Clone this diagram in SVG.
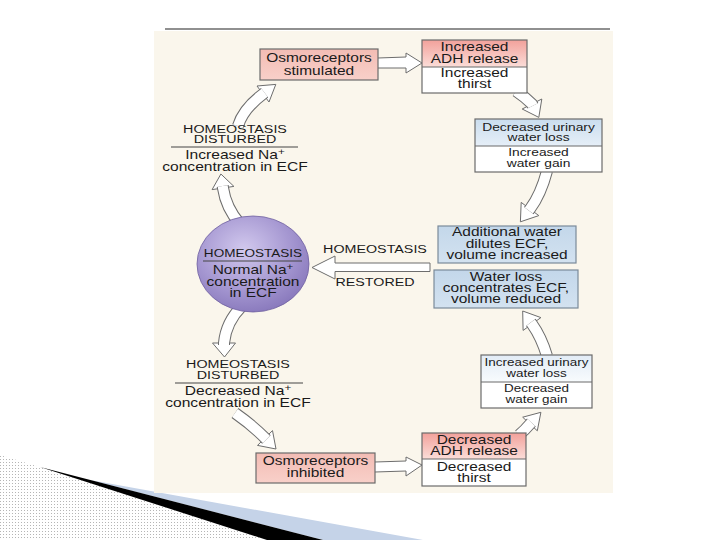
<svg xmlns="http://www.w3.org/2000/svg" width="720" height="540" viewBox="0 0 720 540">
<style>
.t{font-family:"Liberation Sans",Arial,Helvetica,sans-serif;font-size:12px;fill:#1a1a1a;text-anchor:middle}
.h{font-size:11px}
.s{font-size:11.5px}
.sup{font-size:9px}
.bx{stroke:#6b6b6b;stroke-width:1.2}
.bb{stroke:#7b8a99;stroke-width:1.2}
.sep{stroke:#444;stroke-width:1}
.so{fill:none;stroke:#6d6d6d;stroke-width:12}
.si{fill:none;stroke:#fff;stroke-width:10}
.hd{fill:#fff;stroke:#6d6d6d;stroke-width:1;stroke-linejoin:miter}
</style>
<defs>
<pattern id="dots" width="3" height="3" patternUnits="userSpaceOnUse"><rect width="3" height="3" fill="#fff"/><rect width="1" height="1" fill="#b5b5b5"/></pattern>
<linearGradient id="pk" x1="0" y1="0" x2="0" y2="1"><stop offset="0" stop-color="#F2A19B"/><stop offset="1" stop-color="#FBDDD8"/></linearGradient>
<linearGradient id="pk2" x1="0" y1="0" x2="0" y2="1"><stop offset="0" stop-color="#F3BCB4"/><stop offset="1" stop-color="#F8D0C9"/></linearGradient>
<linearGradient id="bl" x1="0" y1="0" x2="0" y2="1"><stop offset="0" stop-color="#CADDEE"/><stop offset="1" stop-color="#E6EFF8"/></linearGradient>
<linearGradient id="bl2" x1="0" y1="0" x2="0" y2="1"><stop offset="0" stop-color="#E2ECF6"/><stop offset="1" stop-color="#F8FBFD"/></linearGradient>
<linearGradient id="bl3" x1="0" y1="0" x2="0" y2="1"><stop offset="0" stop-color="#C3D7EA"/><stop offset="1" stop-color="#D3E2F0"/></linearGradient>
<radialGradient id="pu" cx="0.42" cy="0.35" r="0.7"><stop offset="0" stop-color="#D2C9EE"/><stop offset="0.6" stop-color="#A597D1"/><stop offset="1" stop-color="#8676BA"/></radialGradient>
<path id="c1" d="M238,126 Q243,109 263,94 l1.6,-1.2"/>
<path id="c2" d="M240,224 Q226,208 223,188 l-0.3,-2"/>
<path id="c3" d="M242,306 Q226,322 224,343 l0,2"/>
<path id="c4" d="M235,413 Q252.4,425.2 265,438 l1.4,1.4"/>
<path id="c5" d="M516,91 Q525,97 532,104 l0.9,1.8"/>
<path id="c6" d="M547,171 Q540.8,194.6 530,209 l-1.2,1.6"/>
<path id="c7" d="M547,356 Q541.3,337 532,324 l-1.2,-1.6"/>
<path id="c8" d="M519,435 Q525,430 530,424 l1.4,-1.5"/>
</defs>
<rect width="720" height="540" fill="#fff"/>
<g id="decoration">
<polygon points="0,455 40,467 267,540 0,540" fill="url(#dots)"/>
<polygon points="90,480 423,540 323,540" fill="#C5D3E8"/>
<polygon points="40,467 323,540 267,540" fill="#000"/>
</g>
<rect id="panel" x="154" y="31" width="459" height="462" fill="#FAF6EC"/>
<line x1="165" y1="29" x2="610" y2="29" stroke="#222" stroke-width="1.2"/>
<g id="connectors">
<path class="hd" d="M378,58 L406,57 L406,53 L422,63 L406,73 L406,68 L378,68"/>
<path class="hd" d="M375,462 L406,461 L406,457 L422,465 L406,476 L406,471 L375,472"/>
<path class="hd" d="M430,263 L335,263 L335,256 L312,267.5 L335,279 L335,271.5 L430,271.5 Z"/>
<polygon class="hd" points="269,102 257,86 275.8,84.4"/>
<polygon class="hd" points="233.9,186.4 212.1,189.6 220.9,174"/>
<polygon class="hd" points="212.5,343 235.5,343 224.5,357"/>
<polygon class="hd" points="272.5,430.6 257.5,445.4 276,449"/>
<polygon class="hd" points="541.8,99 522.2,109 538.8,117.4"/>
<polygon class="hd" points="538.8,215.6 521.2,202.4 520.4,221.8"/>
<polygon class="hd" points="540.9,317.6 523.1,330.4 522.7,311"/>
<polygon class="hd" points="537.3,430.8 522.7,417.2 540.9,412.3"/>
<use href="#c1" class="so"/><use href="#c1" class="si"/>
<use href="#c2" class="so"/><use href="#c2" class="si"/>
<use href="#c3" class="so"/><use href="#c3" class="si"/>
<use href="#c4" class="so"/><use href="#c4" class="si"/>
<use href="#c5" class="so"/><use href="#c5" class="si"/>
<use href="#c6" class="so"/><use href="#c6" class="si"/>
<use href="#c7" class="so"/><use href="#c7" class="si"/>
<use href="#c8" class="so"/><use href="#c8" class="si"/>
<g transform="translate(375 0) scale(1.3 1)">
<text class="t h" y="253">HOMEOSTASIS</text>
<text class="t h" y="286">RESTORED</text>
</g>
</g>
<g id="osmo-stimulated">
<rect class="bx" x="260" y="49" width="118" height="31" fill="url(#pk2)"/>
<g transform="translate(319 0) scale(1.29 1)">
<text class="t" y="62">Osmoreceptors</text>
<text class="t" y="75">stimulated</text>
</g>
</g>
<g id="adh-increased">
<rect x="422" y="40" width="105" height="27" fill="url(#pk)"/>
<rect x="422" y="67" width="105" height="26" fill="#fff"/>
<rect class="bx" x="422" y="40" width="105" height="53" fill="none"/>
<line class="bx" x1="422" y1="67" x2="527" y2="67"/>
<g transform="translate(474.5 0) scale(1.29 1)">
<text class="t" y="51">Increased</text>
<text class="t" y="63">ADH release</text>
<text class="t" y="77">Increased</text>
<text class="t" y="88">thirst</text>
</g>
</g>
<g id="urinary-decreased">
<rect x="475" y="119" width="127" height="27" fill="url(#bl)"/>
<rect x="475" y="146" width="127" height="26" fill="#fff"/>
<rect class="bx" x="475" y="119" width="127" height="53" fill="none"/>
<line class="bx" x1="475" y1="146" x2="602" y2="146"/>
<g transform="translate(538.5 0) scale(1.2 1)">
<text class="t s" y="131">Decreased urinary</text>
<text class="t s" y="141">water loss</text>
<text class="t s" y="156">Increased</text>
<text class="t s" y="167">water gain</text>
</g>
</g>
<g id="additional-water">
<rect class="bb" x="438" y="226" width="138" height="37" fill="url(#bl3)"/>
<g transform="translate(507 0) scale(1.29 1)">
<text class="t" y="236">Additional water</text>
<text class="t" y="248">dilutes ECF,</text>
<text class="t" y="259">volume increased</text>
</g>
</g>
<g id="water-loss">
<rect class="bb" x="434" y="270" width="144" height="38" fill="url(#bl3)"/>
<g transform="translate(506 0) scale(1.29 1)">
<text class="t" y="281">Water loss</text>
<text class="t" y="292">concentrates ECF,</text>
<text class="t" y="303">volume reduced</text>
</g>
</g>
<g id="urinary-increased">
<rect x="481" y="355" width="111" height="27" fill="url(#bl2)"/>
<rect x="481" y="382" width="111" height="26" fill="#fff"/>
<rect class="bx" x="481" y="355" width="111" height="53" fill="none"/>
<line class="bx" x1="481" y1="382" x2="592" y2="382"/>
<g transform="translate(536.5 0) scale(1.17 1)">
<text class="t s" y="366">Increased urinary</text>
<text class="t s" y="377">water loss</text>
<text class="t s" y="392">Decreased</text>
<text class="t s" y="403">water gain</text>
</g>
</g>
<g id="adh-decreased">
<rect x="422" y="433" width="104" height="26" fill="url(#pk)"/>
<rect x="422" y="459" width="104" height="27" fill="#fff"/>
<rect class="bx" x="422" y="433" width="104" height="53" fill="none"/>
<line class="bx" x1="422" y1="459" x2="526" y2="459"/>
<g transform="translate(474 0) scale(1.29 1)">
<text class="t" y="444">Decreased</text>
<text class="t" y="455">ADH release</text>
<text class="t" y="471">Decreased</text>
<text class="t" y="482">thirst</text>
</g>
</g>
<g id="osmo-inhibited">
<rect class="bx" x="256" y="453" width="119" height="30" fill="url(#pk2)"/>
<g transform="translate(315.5 0) scale(1.29 1)">
<text class="t" y="465">Osmoreceptors</text>
<text class="t" y="477">inhibited</text>
</g>
</g>
<g id="homeostasis">
<ellipse cx="253" cy="264" rx="56" ry="48" fill="url(#pu)" stroke="#6f5fa0" stroke-width="0.8"/>
<line class="sep" x1="203" y1="261" x2="302" y2="261"/>
<g transform="translate(253 0) scale(1.29 1)">
<text class="t" style="font-size:10.5px" y="257">HOMEOSTASIS</text>
<text class="t" y="274">Normal Na<tspan class="sup" dy="-4">+</tspan></text>
<text class="t" y="286">concentration</text>
<text class="t" y="297">in ECF</text>
</g>
</g>
<g id="disturbed-increased">
<line class="sep" x1="171" y1="147" x2="298" y2="147"/>
<g transform="translate(235 0) scale(1.3 1)">
<text class="t h" y="133">HOMEOSTASIS</text>
<text class="t h" y="143">DISTURBED</text>
<text class="t" y="159">Increased Na<tspan class="sup" dy="-4">+</tspan></text>
<text class="t" y="171">concentration in ECF</text>
</g>
</g>
<g id="disturbed-decreased">
<line class="sep" x1="175" y1="383" x2="303" y2="383"/>
<g transform="translate(238 0) scale(1.3 1)">
<text class="t h" y="368">HOMEOSTASIS</text>
<text class="t h" y="379">DISTURBED</text>
<text class="t" y="395">Decreased Na<tspan class="sup" dy="-4">+</tspan></text>
<text class="t" y="407">concentration in ECF</text>
</g>
</g>
</svg>
